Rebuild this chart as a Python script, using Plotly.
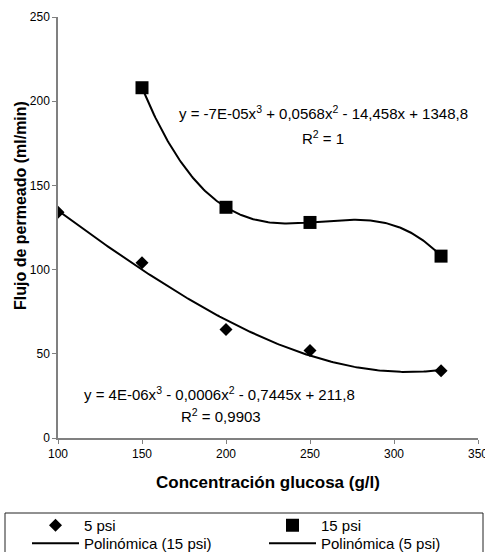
import numpy as np
import plotly.graph_objects as go

# Data
x_5psi = [100, 150, 200, 250, 328]
y_5psi = [134, 104, 64.5, 52, 40]
x_15psi = [150, 200, 250, 328]
y_15psi = [208, 137, 128, 108]

x_ticks = [100, 150, 200, 250, 300, 350]
y_ticks = [0, 50, 100, 150, 200, 250]

eq_15 = "y = -7E-05x<sup>3</sup> + 0,0568x<sup>2</sup> - 14,458x + 1348,8"
r2_15 = "R<sup>2</sup> = 1"
eq_5 = "y = 4E-06x<sup>3</sup> - 0,0006x<sup>2</sup> - 0,7445x + 211,8"
r2_5 = "R<sup>2</sup> = 0,9903"

FONT = "Arial, 'Liberation Sans', sans-serif"

# Polynomial (order 3) trend lines fitted to the data
c5 = np.polyfit(x_5psi, y_5psi, 3)
c15 = np.polyfit(x_15psi, y_15psi, 3)
xf5 = np.linspace(min(x_5psi), max(x_5psi), 200)
xf15 = np.linspace(min(x_15psi), max(x_15psi), 200)

fig = go.Figure()
fig.add_trace(go.Scatter(x=x_5psi, y=y_5psi, mode="markers", name="5 psi", legend="legend",
                         marker=dict(symbol="diamond", size=10, color="black")))
fig.add_trace(go.Scatter(x=x_15psi, y=y_15psi, mode="markers", name="15 psi", legend="legend2",
                         marker=dict(symbol="square", size=13, color="black")))
fig.add_trace(go.Scatter(x=xf15, y=np.polyval(c15, xf15), mode="lines", legend="legend3",
                         name="Polinómica (15 psi)", line=dict(color="black", width=2)))
fig.add_trace(go.Scatter(x=xf5, y=np.polyval(c5, xf5), mode="lines", legend="legend4",
                         name="Polinómica (5 psi)", line=dict(color="black", width=2)))

ann_font = dict(family=FONT, size=15, color="black")
for txt, ax, ay in [(eq_15, 258.3, 193), (r2_15, 257.7, 178.7),
                    (eq_5, 196.4, 26.7), (r2_5, 197, 13.1)]:
    fig.add_annotation(x=ax, y=ay, xref="x", yref="y", text=txt, showarrow=False,
                       font=ann_font, xanchor="center", yanchor="middle")

# y-axis title (placed like the original, slightly above the axis centre)
fig.add_annotation(x=(20 - 58) / 420, y=(438 - 206) / 421, xref="paper", yref="paper",
                   text="<b>Flujo de permeado (ml/min)</b>", textangle=-90, showarrow=False,
                   font=dict(family=FONT, size=16, color="black"),
                   xanchor="center", yanchor="middle")

fig.add_shape(type="rect", xref="paper", yref="paper",
              x0=(5 - 58) / 420, x1=(483 - 58) / 420,
              y0=(438 - 560) / 421, y1=(438 - 513) / 421,
              line=dict(color="#222222", width=1), fillcolor="rgba(0,0,0,0)")

axis_common = dict(showgrid=False, zeroline=False, showline=True, linecolor="#808080",
                   linewidth=1.5, ticks="outside", ticklen=4, tickcolor="#808080",
                   ticklabeloverflow="allow",
                   tickfont=dict(family=FONT, size=12, color="black"), mirror=False)

leg_common = dict(orientation="v", xref="paper", yref="paper",
                  xanchor="left", yanchor="top",
                  itemwidth=47, bgcolor="rgba(0,0,0,0)", tracegroupgap=0,
                  font=dict(family=FONT, size=15, color="black"), itemclick=False)
col1 = (27 - 58) / 420
col2 = (264 - 58) / 420
row1 = (438 - 509) / 421
row2 = (438 - 527) / 421

fig.update_layout(
    width=485, height=552,
    margin=dict(l=58, r=7, t=17, b=114, autoexpand=False),
    plot_bgcolor="white", paper_bgcolor="white",
    font=dict(family=FONT, color="black"),
    xaxis=dict(range=[100, 350], tickvals=x_ticks, **axis_common,
               title=dict(text="<b>Concentración glucosa (g/l)</b>", standoff=16,
                          font=dict(family=FONT, size=17, color="black"))),
    yaxis=dict(range=[0, 250], tickvals=y_ticks, **axis_common),
    showlegend=True,
    legend=dict(x=col1, y=row1, **leg_common),
    legend2=dict(x=col2, y=row1, **leg_common),
    legend3=dict(x=col1, y=row2, **leg_common),
    legend4=dict(x=col2, y=row2, **leg_common),
)

fig.write_html("out.html")
